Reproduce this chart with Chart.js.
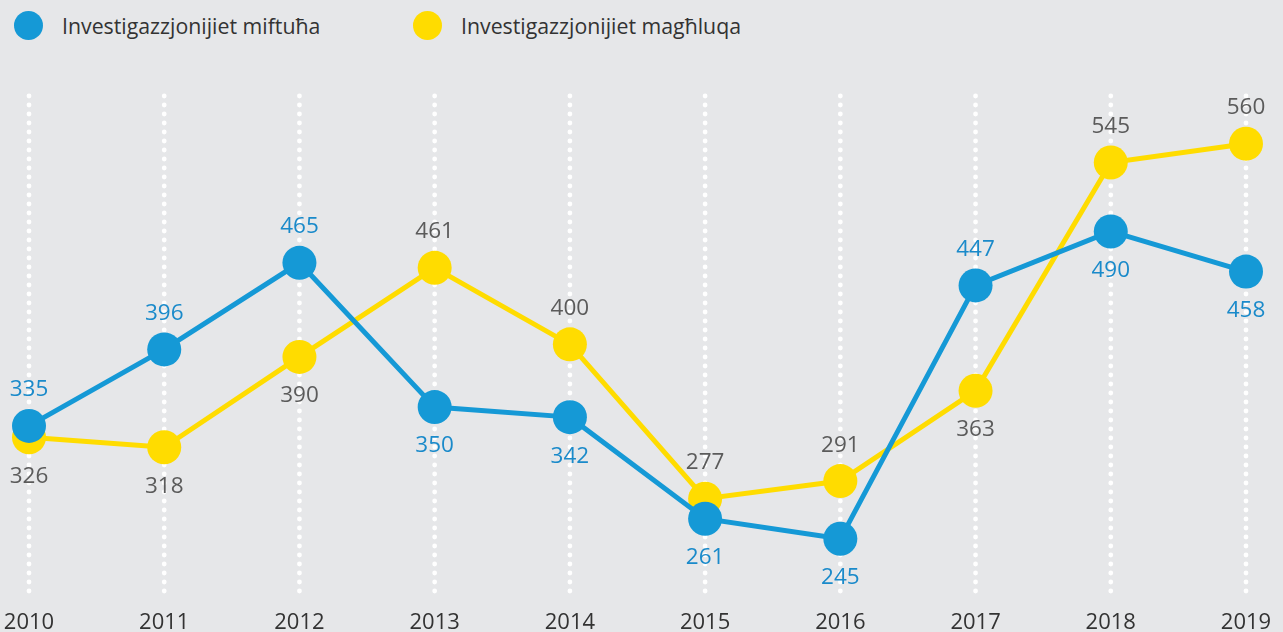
<!DOCTYPE html>
<html>
<head>
<meta charset="utf-8">
<script src="https://cdn.jsdelivr.net/npm/chart.js@4/dist/chart.umd.min.js"></script>
<style>
  html, body { margin: 0; padding: 0; background: #e6e7e9; }
  body { width: 1283px; height: 632px; position: relative; overflow: hidden; font-family: "Open Sans", "Noto Sans", sans-serif; }
  .legend { position: absolute; top: 11px; left: 0; height: 32px; }
  .legend-item { position: absolute; top: 0; display: flex; align-items: center; white-space: nowrap; font-size: 21.3px; color: #333; }
  .legend-item span.dot { width: 29px; height: 29px; border-radius: 50%; display: inline-block; margin-right: 19px; }
  #chartWrap { position: absolute; left: 0; top: 0; width: 1283px; height: 632px; }
</style>
</head>
<body>
<div class="legend">
  <div class="legend-item" style="left:14px"><span class="dot" style="background:#1599d6"></span>Investigazzjonijiet miftuħa</div>
  <div class="legend-item" style="left:413px"><span class="dot" style="background:#ffdc00"></span>Investigazzjonijiet magħluqa</div>
</div>
<div id="chartWrap"><canvas id="chart" width="1283" height="632"></canvas></div>
<script>
const years = ['2010', '2011', '2012', '2013', '2014', '2015', '2016', '2017', '2018', '2019'];
const openedValues = [335, 396, 465, 350, 342, 261, 245, 447, 490, 458];
const closedValues = [326, 318, 390, 461, 400, 277, 291, 363, 545, 560];
// where each value label sits relative to its point
const openedLabelSide = ['up', 'up', 'up', 'down', 'down', 'down', 'down', 'up', 'down', 'down'];
const closedLabelSide = ['down', 'down', 'down', 'up', 'up', 'up', 'up', 'down', 'up', 'up'];

const blue = '#1599d6';
const yellow = '#ffdc00';
const fontFamily = '"Open Sans", "Noto Sans", sans-serif';

// dotted vertical lines at each year
const dottedGrid = {
  id: 'dottedGrid',
  beforeDatasetsDraw(chart) {
    const ctx = chart.ctx;
    const x = chart.scales.x;
    const area = chart.chartArea;
    ctx.save();
    ctx.fillStyle = '#ffffff';
    x.ticks.forEach((t, i) => {
      const px = x.getPixelForTick(i);
      for (let y = area.top; y <= area.bottom + 0.5; y += 9) {
        ctx.beginPath();
        ctx.arc(px, y, 2.4, 0, Math.PI * 2);
        ctx.fill();
      }
    });
    ctx.restore();
  }
};

// value labels above or below the points
const valueLabels = {
  id: 'valueLabels',
  afterDatasetsDraw(chart) {
    const ctx = chart.ctx;
    ctx.save();
    ctx.font = '22.5px ' + fontFamily;
    ctx.textAlign = 'center';
    ctx.textBaseline = 'middle';
    chart.data.datasets.forEach((ds, di) => {
      const meta = chart.getDatasetMeta(di);
      const sides = di === 0 ? openedLabelSide : closedLabelSide;
      ctx.fillStyle = di === 0 ? '#1a8aca' : '#5b5b5b';
      meta.data.forEach((pt, i) => {
        const dy = sides[i] === 'up' ? -36 : 39;
        ctx.fillText(String(ds.data[i]), pt.x, pt.y + dy);
      });
    });
    ctx.restore();
  }
};

new Chart(document.getElementById('chart').getContext('2d'), {
  type: 'line',
  data: {
    labels: years,
    datasets: [
      {
        label: 'Investigazzjonijiet miftuħa',
        data: openedValues,
        borderColor: blue,
        backgroundColor: blue,
        borderWidth: 5,
        pointRadius: 17,
        pointHoverRadius: 17,
        pointBorderWidth: 0,
        tension: 0
      },
      {
        label: 'Investigazzjonijiet magħluqa',
        data: closedValues,
        borderColor: yellow,
        backgroundColor: yellow,
        borderWidth: 5,
        pointRadius: 17,
        pointHoverRadius: 17,
        pointBorderWidth: 0,
        tension: 0
      }
    ]
  },
  options: {
    responsive: false,
    animation: false,
    events: [],
    layout: { padding: { left: 29, right: 37, top: 96, bottom: 0 } },
    plugins: {
      legend: { display: false },
      tooltip: { enabled: false }
    },
    scales: {
      x: {
        offset: false,
        grid: { display: false, drawTicks: false },
        border: { display: false },
        ticks: {
          padding: 16,
          color: '#333333',
          font: { size: 22, family: fontFamily },
          maxRotation: 0,
          autoSkip: false
        },
        afterFit(scale) {
          scale.height = 38;
          scale.paddingLeft = 0;
          scale.paddingRight = 0;
        }
      },
      y: {
        display: false,
        min: 201,
        max: 598
      }
    }
  },
  plugins: [dottedGrid, valueLabels]
});
</script>
</body>
</html>
